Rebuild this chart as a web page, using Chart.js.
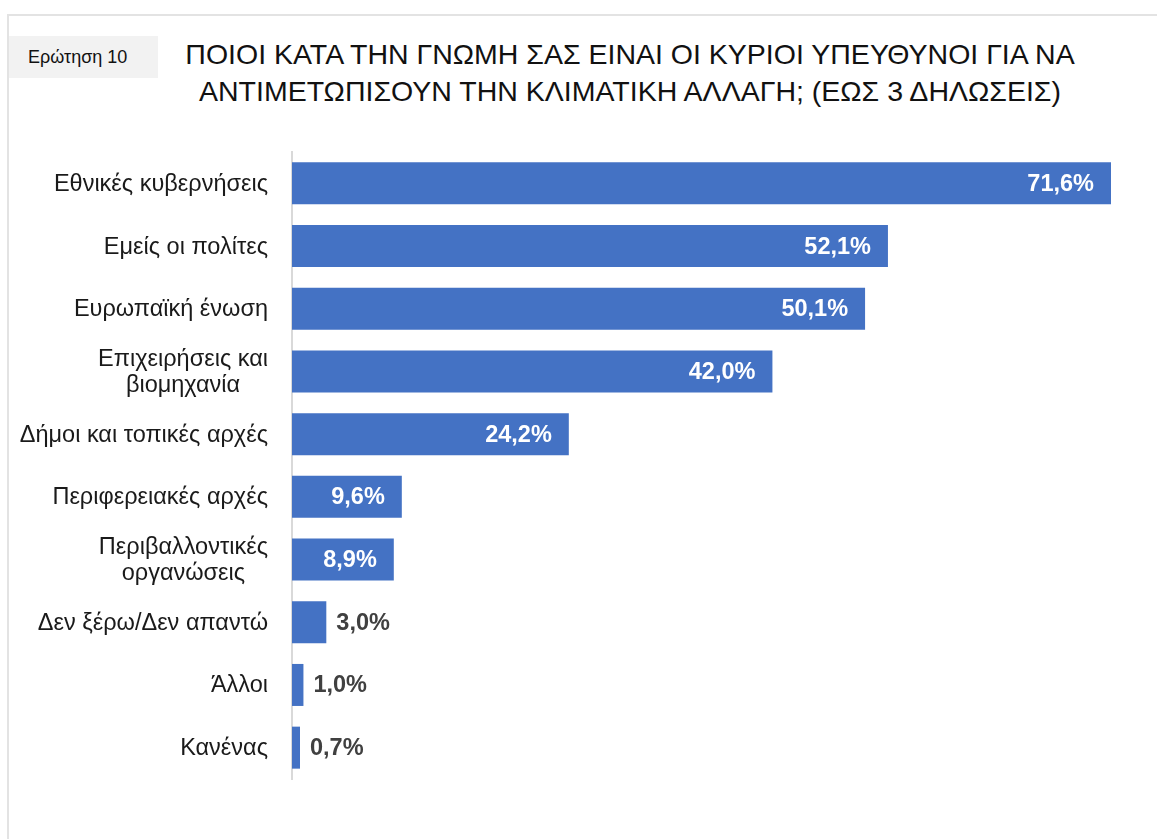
<!DOCTYPE html>
<html>
<head>
<meta charset="utf-8">
<script src="https://cdn.jsdelivr.net/npm/chart.js@4"></script>
<style>
  body { margin: 0; background: #fff; font-family: "Liberation Sans", Arial, sans-serif; }
  .frame { position: absolute; left: 7px; top: 14px; width: 1170px; height: 900px; border-left: 2px solid #e3e3e3; border-top: 2px solid #e3e3e3; }
  .badge { position: absolute; left: 9px; top: 36px; width: 149px; height: 42px; background: #f2f2f2; font-size: 18px; line-height: 42px; color: #111; }
  .badge span { margin-left: 19px; }
  .title { position: absolute; left: 110px; width: 1040px; top: 36px; text-align: center; font-size: 28.5px; line-height: 37px; color: #111; }
  #wrap { position: absolute; left: 0; top: 0; width: 1157px; height: 839px; }
</style>
</head>
<body>
<div class="frame"></div>
<div class="badge"><span>Ερώτηση 10</span></div>
<div class="title">ΠΟΙΟΙ ΚΑΤΑ ΤΗΝ ΓΝΩΜΗ ΣΑΣ ΕΙΝΑΙ ΟΙ ΚΥΡΙΟΙ ΥΠΕΥΘΥΝΟΙ ΓΙΑ ΝΑ<br>ΑΝΤΙΜΕΤΩΠΙΣΟΥΝ ΤΗΝ ΚΛΙΜΑΤΙΚΗ ΑΛΛΑΓΗ; (ΕΩΣ 3 ΔΗΛΩΣΕΙΣ)</div>
<div id="wrap"><canvas id="myChart"></canvas></div>
<script>
const categories = [
  ['Εθνικές κυβερνήσεις'],
  ['Εμείς οι πολίτες'],
  ['Ευρωπαϊκή ένωση'],
  ['Επιχειρήσεις και', 'βιομηχανία'],
  ['Δήμοι και τοπικές αρχές'],
  ['Περιφερειακές αρχές'],
  ['Περιβαλλοντικές', 'οργανώσεις'],
  ['Δεν ξέρω/Δεν απαντώ'],
  ['Άλλοι'],
  ['Κανένας']
];
const values = [71.6, 52.1, 50.1, 42.0, 24.2, 9.6, 8.9, 3.0, 1.0, 0.7];

const fmt = v => v.toFixed(1).replace('.', ',') + '%';

// category labels (multi-line ones centred within their block) + value labels
const labelPlugin = {
  id: 'labels',
  afterDatasetsDraw(chart) {
    const ctx = chart.ctx;
    const y = chart.scales.y;
    const meta = chart.getDatasetMeta(0);
    ctx.save();
    ctx.textBaseline = 'middle';
    ctx.font = '23.5px "Liberation Sans", Arial, sans-serif';
    ctx.fillStyle = '#1a1a1a';
    const right = chart.chartArea.left - 24;
    categories.forEach((lines, i) => {
      const cy = y.getPixelForValue(i);
      const lh = 26;
      const widths = lines.map(l => ctx.measureText(l).width);
      const w = Math.max(...widths);
      lines.forEach((l, j) => {
        const ly = cy + 1 + (j - (lines.length - 1) / 2) * lh;
        ctx.textAlign = 'center';
        ctx.fillText(l, right - w / 2, ly);
      });
    });
    ctx.font = 'bold 23.5px "Liberation Sans", Arial, sans-serif';
    meta.data.forEach((bar, i) => {
      const v = values[i];
      if (v >= 5) {
        ctx.textAlign = 'right';
        ctx.fillStyle = '#ffffff';
        ctx.fillText(fmt(v), bar.x - 17, bar.y + 1);
      } else {
        ctx.textAlign = 'left';
        ctx.fillStyle = '#404040';
        ctx.fillText(fmt(v), bar.x + 10, bar.y + 1);
      }
    });
    ctx.restore();
  }
};

new Chart(document.getElementById('myChart'), {
  type: 'bar',
  data: {
    labels: categories,
    datasets: [{
      data: values,
      backgroundColor: '#4472C4',
      borderWidth: 0,
      barPercentage: 0.67,
      categoryPercentage: 1
    }]
  },
  options: {
    indexAxis: 'y',
    responsive: true,
    maintainAspectRatio: false,
    animation: false,
    layout: { padding: { left: 284, right: 46, top: 152, bottom: 60 } },
    plugins: { legend: { display: false }, tooltip: { enabled: false } },
    scales: {
      x: { display: false, min: 0, max: 71.6 },
      y: {
        ticks: { display: false },
        grid: { display: false },
        border: { display: true, color: '#d9d9d9', width: 2 }
      }
    }
  },
  plugins: [labelPlugin]
});
</script>
</body>
</html>
